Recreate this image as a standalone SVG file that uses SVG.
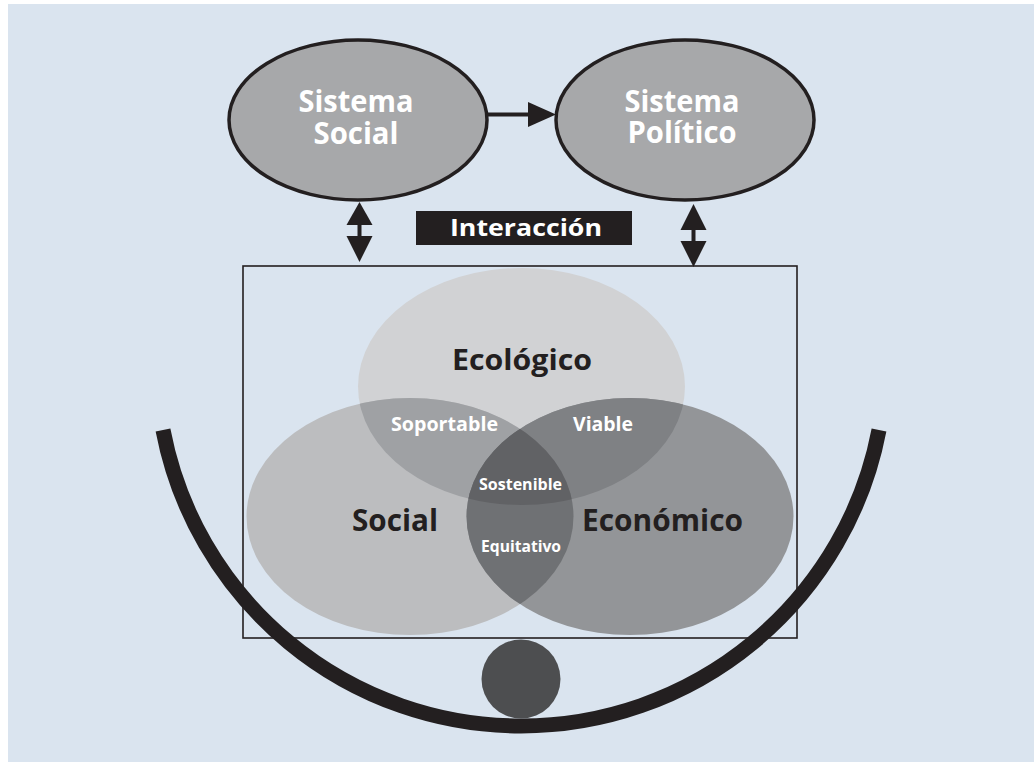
<svg xmlns="http://www.w3.org/2000/svg" width="1034" height="762" viewBox="0 0 1034 762">
<style>
.node-ellipse{fill:#a7a8aa;stroke:#231f20;stroke-width:3.5}
.w{fill:#ffffff;font-family:"Open Sans","Liberation Sans",sans-serif;font-weight:bold;text-anchor:middle}
.k{fill:#231f20;font-family:"Open Sans","Liberation Sans",sans-serif;font-weight:bold;text-anchor:middle}
.conn{stroke:#231f20;stroke-width:4;fill:none}
.head{fill:#231f20}
</style>
<defs>
<ellipse id="eEco" cx="521.5" cy="386.5" rx="163.5" ry="118.5"/>
<ellipse id="eSoc" cx="410" cy="516.5" rx="163.5" ry="118.5"/>
<ellipse id="eEcn" cx="630" cy="516.5" rx="163.5" ry="118.5"/>
<clipPath id="cSoc"><use href="#eSoc"/></clipPath>
<clipPath id="cEcn"><use href="#eEcn"/></clipPath>
</defs>
<rect x="0" y="0" width="1034" height="762" fill="#ffffff"/>
<rect x="8" y="4" width="1026" height="758" fill="#dae4ef"/>

<g id="sistema-social">
<ellipse class="node-ellipse" cx="358" cy="120" rx="129" ry="80"/>
<text class="w" x="356" y="112" font-size="30" textLength="115" lengthAdjust="spacingAndGlyphs">Sistema</text>
<text class="w" x="356" y="144" font-size="30" textLength="85" lengthAdjust="spacingAndGlyphs">Social</text>
</g>
<g id="sistema-politico">
<ellipse class="node-ellipse" cx="685" cy="120" rx="129" ry="80"/>
<text class="w" x="682" y="112" font-size="30" textLength="115" lengthAdjust="spacingAndGlyphs">Sistema</text>
<text class="w" x="682" y="143" font-size="30" textLength="109" lengthAdjust="spacingAndGlyphs">Político</text>
</g>

<g id="interaccion">
<rect x="416" y="211" width="216" height="34" fill="#231f20"/>
<text class="w" x="526" y="236" font-size="24" textLength="152" lengthAdjust="spacingAndGlyphs">Interacción</text>
</g>

<g id="connectors">
<line class="conn" x1="487" y1="114.5" x2="532" y2="114.5"/>
<polygon class="head" points="528,102 556,114.5 528,127"/>
<line class="conn" x1="359.5" y1="222" x2="359.5" y2="240"/>
<polygon class="head" points="359.5,202 372.5,225 346.5,225"/>
<polygon class="head" points="346.5,236 372.5,236 359.5,262"/>
<line class="conn" x1="693.5" y1="227" x2="693.5" y2="244"/>
<polygon class="head" points="693.5,204 706.5,230 680.5,230"/>
<polygon class="head" points="680.5,241 706.5,241 693.5,267"/>
</g>

<g id="frame">
<rect x="243" y="266" width="554" height="372" fill="none" stroke="#231f20" stroke-width="1.6"/>
</g>

<g id="venn">
<g id="ecologico-circle"><use href="#eEco" fill="#d1d2d4"/></g>
<g id="social-circle"><use href="#eSoc" fill="#bcbdbf"/></g>
<g id="economico-circle"><use href="#eEcn" fill="#939598"/></g>
<g id="soportable-area" clip-path="url(#cSoc)"><use href="#eEco" fill="#9fa1a4"/></g>
<g id="viable-area" clip-path="url(#cEcn)"><use href="#eEco" fill="#7f8184"/></g>
<g id="equitativo-area" clip-path="url(#cEcn)"><use href="#eSoc" fill="#6f7174"/></g>
<g id="sostenible-area" clip-path="url(#cSoc)"><g clip-path="url(#cEcn)"><use href="#eEco" fill="#616265"/></g></g>
</g>

<g id="labels">
<text id="ecologico" class="k" x="522" y="370" font-size="29" textLength="140" lengthAdjust="spacingAndGlyphs">Ecológico</text>
<text id="social" class="k" x="395" y="531" font-size="30" textLength="86" lengthAdjust="spacingAndGlyphs">Social</text>
<text id="economico" class="k" x="662.5" y="531" font-size="30" textLength="161" lengthAdjust="spacingAndGlyphs">Económico</text>
<text id="soportable" class="w" x="444.5" y="431" font-size="20" textLength="107" lengthAdjust="spacingAndGlyphs">Soportable</text>
<text id="viable" class="w" x="603" y="431" font-size="20" textLength="60" lengthAdjust="spacingAndGlyphs">Viable</text>
<text id="sostenible" class="w" x="520.5" y="490" font-size="16" textLength="83" lengthAdjust="spacingAndGlyphs">Sostenible</text>
<text id="equitativo" class="w" x="521" y="552" font-size="16" textLength="80" lengthAdjust="spacingAndGlyphs">Equitativo</text>
</g>

<g id="arc">
<path d="M163,430 A364.5,364.5 0 0 0 879,430" fill="none" stroke="#231f20" stroke-width="15"/>
</g>
<g id="ball">
<circle cx="521" cy="679" r="39.5" fill="#4d4e50"/>
</g>
</svg>
